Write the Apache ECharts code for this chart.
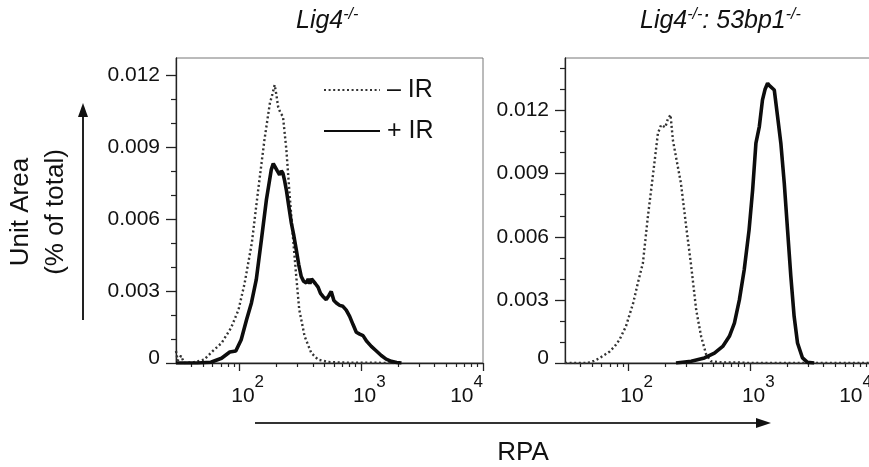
<!DOCTYPE html>
<html><head><meta charset="utf-8">
<script src="https://cdn.jsdelivr.net/npm/echarts@6/dist/echarts.min.js"></script>
<style>html,body{margin:0;padding:0;background:#fff}#c{width:869px;height:467px}</style>
</head><body><div id="c"></div>
<script>
// ---- data (x = RPA intensity, y = unit area) ----
const seriesNames = ['\u2013 IR', '+ IR'];
const leftMinusIR = [[30,0.0005],[31,0.0001],[33,0.0003],[35,0],[42,0.00003],[51,0.00014],[60,0.00049],[71,0.00083],[85,0.00146],[98,0.00222],[110,0.00333],[126,0.0050],[141,0.00707],[160,0.0093],[177,0.0108],[186,0.0112],[194,0.01158],[200,0.0112],[207,0.01068],[217,0.0104],[227,0.01027],[242,0.0089],[257,0.00707],[274,0.00527],[292,0.0036],[309,0.00222],[342,0.00111],[388,0.00042],[441,0.00014],[537,0.00004],[700,0.00002],[900,0.00001],[1300,0.00001],[1860,0]];
const leftPlusIR = [[30,0],[45,0],[58,0.00003],[71,0.0002],[83,0.00046],[93,0.0005],[103,0.00097],[114,0.0018],[125,0.0025],[137,0.00347],[151,0.00513],[166,0.0068],[182,0.00805],[189,0.0083],[196,0.00825],[204,0.0080],[213,0.00784],[220,0.0080],[227,0.0079],[234,0.0076],[242,0.00721],[254,0.0065],[266,0.00583],[279,0.0053],[292,0.00472],[306,0.0041],[321,0.0036],[336,0.0034],[353,0.00333],[366,0.0035],[378,0.0033],[390,0.0035],[401,0.00347],[420,0.0033],[441,0.00316],[462,0.0029],[484,0.00277],[500,0.0027],[515,0.00264],[540,0.0028],[566,0.00298],[595,0.0026],[624,0.0025],[664,0.0024],[706,0.00236],[752,0.0022],[802,0.00194],[855,0.0016],[910,0.00128],[970,0.0012],[1033,0.00114],[1110,0.0009],[1208,0.00069],[1330,0.0005],[1459,0.00031],[1600,0.00016],[1766,0.00007],[1950,0.00002],[2138,0]];
const rightMinusIR = [[30,0],[46,0],[52,0.0001],[58,0.00024],[64,0.0004],[70,0.00055],[77,0.0008],[84,0.0011],[95,0.00174],[109,0.00285],[119,0.0038],[131,0.00475],[137,0.0058],[144,0.00697],[158,0.00887],[174,0.01092],[185,0.01132],[200,0.0112],[210,0.0116],[221,0.0118],[231,0.0106],[245,0.0098],[269,0.00855],[297,0.0065],[327,0.00459],[359,0.00253],[394,0.00127],[434,0.0004],[476,0.00008],[600,0.00002],[800,0.00003],[1000,0],[10000,0]];
const rightPlusIR = [[245,0],[327,0.00008],[420,0.00024],[507,0.00047],[593,0.00079],[673,0.00127],[740,0.0019],[813,0.003],[891,0.00443],[977,0.00633],[1045,0.00823],[1112,0.01045],[1186,0.01124],[1259,0.01251],[1320,0.0130],[1387,0.0133],[1430,0.0132],[1479,0.01314],[1574,0.01298],[1675,0.01172],[1782,0.01045],[1901,0.00855],[2023,0.00633],[2153,0.00412],[2291,0.00222],[2443,0.00095],[2685,0.00024],[2951,0.00003],[3350,0]];

// ---- ticks ----
const rpaMajorTicks = [100, 1000, 10000];
const rpaMinorTicks = [40,50,60,70,80,90,200,300,400,500,600,700,800,900,2000,3000,4000,5000,6000,7000,8000,9000];
const unitMajorTicks = [0, 0.003, 0.006, 0.009, 0.012];
const unitMinorTicksLeft = [0.001,0.002,0.004,0.005,0.007,0.008,0.010,0.011];
const unitMinorTicksRight = [0.001,0.002,0.004,0.005,0.007,0.008,0.010,0.011,0.013,0.014];

const FONT = '"Liberation Sans", Arial, Helvetica, sans-serif';
const chart = echarts.init(document.getElementById('c'), null, {renderer: 'canvas'});

const grids = [
  {left: 176, top: 58, width: 307, height: 305},
  {left: 565, top: 58, width: 307, height: 305}
];
const yMax = [0.0127, 0.0145];
const yMinor = [unitMinorTicksLeft, unitMinorTicksRight];

const xAxes = [], yAxes = [];
grids.forEach((g, i) => {
  xAxes.push({
    type: 'log', logBase: 10, gridIndex: i, min: 30, max: 10000, position: 'bottom',
    axisLine: {show: true, lineStyle: {color: '#222', width: 1.3}},
    axisTick: {show: true, customValues: rpaMajorTicks, length: 8, inside: false, lineStyle: {color: '#222', width: 1.3}},
    axisLabel: {show: true, customValues: rpaMajorTicks, margin: 11, color: '#111', fontFamily: FONT, fontSize: 21,
      alignMaxLabel: 'right',
      formatter: v => (v >= 10000 ? '{b|10}' : '{p|}{b|10}') + '{s|' + Math.round(Math.log10(v)) + '}',
      rich: {p: {width: 16, height: 10},
             b: {fontSize: 21, fontFamily: FONT, color: '#111', padding: [12,0,0,0], verticalAlign: 'bottom'},
             s: {fontSize: 17, fontFamily: FONT, color: '#111', verticalAlign: 'top'}}},
    splitLine: {show: false}
  });
  xAxes.push({
    type: 'log', logBase: 10, gridIndex: i, min: 30, max: 10000, position: 'bottom',
    axisLine: {show: false},
    axisTick: {show: true, customValues: rpaMinorTicks, length: 4, lineStyle: {color: '#222', width: 1.2}},
    axisLabel: {show: false}, splitLine: {show: false}
  });
  yAxes.push({
    type: 'value', gridIndex: i, min: 0, max: yMax[i], position: 'left',
    axisLine: {show: true, lineStyle: {color: '#222', width: 1.3}},
    axisTick: {show: true, customValues: unitMajorTicks, length: 10, lineStyle: {color: '#222', width: 1.3}},
    axisLabel: {show: true, customValues: unitMajorTicks, margin: 16, fontSize: 21, color: '#111', fontFamily: FONT,
      formatter: v => v === 0 ? '{z|0}' : v.toFixed(3),
      rich: {z: {fontSize: 21, fontFamily: FONT, color: '#111', padding: [0,0,10,0]}}},
    splitLine: {show: false}
  });
  yAxes.push({
    type: 'value', gridIndex: i, min: 0, max: yMax[i], position: 'left',
    axisLine: {show: false},
    axisTick: {show: true, customValues: yMinor[i], length: 5, lineStyle: {color: '#222', width: 1.2}},
    axisLabel: {show: false}, splitLine: {show: false}
  });
});

const dottedStyle = {color: '#333', width: 2.4, type: [2, 2.6]};
const solidStyle = {color: '#0d0d0d', width: 3.6, type: 'solid'};
function mk(name, data, panel, style) {
  return {name, type: 'line', data, xAxisIndex: panel * 2, yAxisIndex: panel * 2,
    symbol: 'none', showSymbol: false, lineStyle: style, itemStyle: {color: style.color},
    z: style === solidStyle ? 3 : 2, silent: true};
}

const titleRich = {
  i: {fontSize: 25, fontStyle: 'italic', fontWeight: 'normal', fontFamily: FONT, color: '#111'},
  s: {fontSize: 16, fontStyle: 'italic', fontWeight: 'normal', fontFamily: FONT, color: '#111', padding: [0,0,12,0]}
};

const option = {
  animation: false,
  backgroundColor: '#fff',
  title: [
    {text: '{i|Lig4}{s|-/-}', left: 291, top: 2, textStyle: {fontWeight: 'normal', rich: titleRich}},
    {text: '{i|Lig4}{s|-/-}{i|: 53bp1}{s|-/-}', left: 635, top: 2, textStyle: {fontWeight: 'normal', rich: titleRich}}
  ],
  legend: {
    data: seriesNames, orient: 'vertical', left: 318, top: 71,
    itemWidth: 56, itemHeight: 14, itemGap: 13,
    itemStyle: {opacity: 0, borderWidth: 0},
    textStyle: {fontSize: 25, fontFamily: FONT, color: '#111', padding: [0,0,0,2], lineHeight: 28},
    selectedMode: false
  },
  grid: grids.map(g => Object.assign({show: true, borderColor: '#777', borderWidth: 1, backgroundColor: 'transparent', containLabel: false, outerBoundsMode: 'none'}, g)),
  xAxis: xAxes,
  yAxis: yAxes,
  series: [
    mk(seriesNames[0], leftMinusIR, 0, dottedStyle),
    mk(seriesNames[1], leftPlusIR, 0, solidStyle),
    mk(seriesNames[0], rightMinusIR, 1, dottedStyle),
    mk(seriesNames[1], rightPlusIR, 1, solidStyle)
  ],
  graphic: [
    {type: 'text', x: 38, y: 212, rotation: Math.PI / 2,
     style: {text: 'Unit Area\n(% of total)', fontSize: 26, fontFamily: FONT, fill: '#111', align: 'center', verticalAlign: 'middle', lineHeight: 35}},
    {type: 'line', shape: {x1: 83, y1: 320, x2: 83, y2: 114}, style: {stroke: '#222', lineWidth: 2}},
    {type: 'polygon', shape: {points: [[83, 103], [78, 117], [88, 117]]}, style: {fill: '#111'}},
    {type: 'line', shape: {x1: 255, y1: 423, x2: 758, y2: 423}, style: {stroke: '#333', lineWidth: 2}},
    {type: 'polygon', shape: {points: [[771, 423], [756, 418], [756, 428]]}, style: {fill: '#111'}},
    {type: 'text', x: 523, y: 453,
     style: {text: 'RPA', fontSize: 26, fontFamily: FONT, fill: '#111', align: 'center', verticalAlign: 'middle'}}
  ]
};
chart.setOption(option);
</script></body></html>
